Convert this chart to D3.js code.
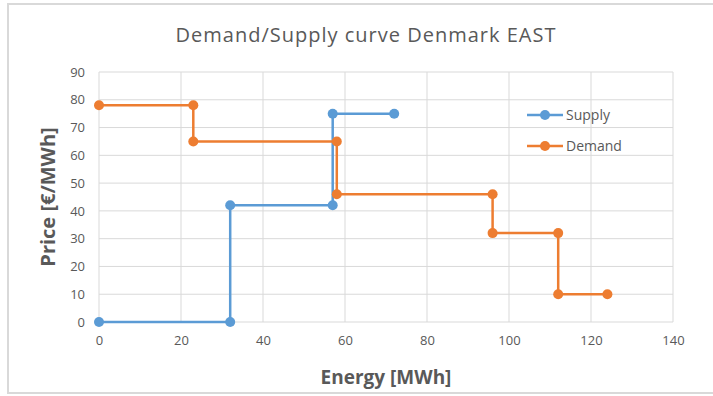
<!DOCTYPE html>
<html><head><meta charset="utf-8">
<script src="https://cdn.jsdelivr.net/npm/d3@7"></script>
<style>body{margin:0;background:#fff}svg{display:block}</style>
</head><body>
<script>
const supplyX = [0, 32, 32, 57, 57, 72];
const supplyY = [0, 0, 42, 42, 75, 75];
const demandX = [0, 23, 23, 58, 58, 96, 96, 112, 112, 124];
const demandY = [78, 78, 65, 65, 46, 46, 32, 32, 10, 10];
const xTicks = [0, 20, 40, 60, 80, 100, 120, 140];
const yTicks = [0, 10, 20, 30, 40, 50, 60, 70, 80, 90];
const seriesNames = ["Supply", "Demand"];
const colors = ["#5b9bd5", "#ed7d31"];

const W = 713, H = 396;
const svg = d3.select("body").append("svg").attr("width", W).attr("height", H);
svg.append("rect").attr("x", 8).attr("y", 4).attr("width", W).attr("height", 389)
  .attr("fill", "#fff").attr("stroke", "#d9d9d9").attr("stroke-width", 2);

const x = d3.scaleLinear().domain([0, 140]).range([99, 673]);
const y = d3.scaleLinear().domain([0, 90]).range([322, 72]);
const font = "'Open Sans', 'Noto Sans', sans-serif";

svg.append("text").attr("x", 366).attr("y", 42).attr("text-anchor", "middle")
  .attr("font-family", font).attr("font-size", 20).attr("letter-spacing", 1).attr("fill", "#595959")
  .text("Demand/Supply curve Denmark EAST");

const g = svg.append("g");
g.selectAll(".gx").data(xTicks).join("line")
  .attr("x1", d => x(d)).attr("x2", d => x(d)).attr("y1", y(0)).attr("y2", y(90))
  .attr("stroke", "#d9d9d9").attr("stroke-width", 1);
g.selectAll(".gy").data(yTicks).join("line")
  .attr("y1", d => y(d)).attr("y2", d => y(d)).attr("x1", x(0)).attr("x2", x(140))
  .attr("stroke", "#d9d9d9").attr("stroke-width", 1);

const xa = svg.append("g").attr("transform", `translate(0,${y(0)})`)
  .call(d3.axisBottom(x).tickValues(xTicks).tickSize(0).tickPadding(14));
const ya = svg.append("g").attr("transform", `translate(${x(0)},0)`)
  .call(d3.axisLeft(y).tickValues(yTicks).tickSize(0).tickPadding(14));
[xa, ya].forEach(a => {
  a.select(".domain").remove();
  a.selectAll("text").attr("font-family", font).attr("font-size", 13).attr("fill", "#595959");
});

svg.append("text").attr("x", 386).attr("y", 384).attr("text-anchor", "middle")
  .attr("font-family", font).attr("font-size", 19).attr("font-weight", "bold").attr("fill", "#595959")
  .text("Energy [MWh]");
svg.append("text").attr("transform", "translate(55,197) rotate(-90)").attr("text-anchor", "middle")
  .attr("font-family", font).attr("font-size", 20).attr("font-weight", "bold").attr("fill", "#595959")
  .text("Price [€/MWh]");

const line = d3.line().x(d => x(d[0])).y(d => y(d[1]));
const series = [d3.zip(supplyX, supplyY), d3.zip(demandX, demandY)];
series.forEach((pts, i) => {
  svg.append("path").datum(pts).attr("d", line).attr("fill", "none")
    .attr("stroke", colors[i]).attr("stroke-width", 2.5);
  svg.append("g").selectAll("circle").data(pts).join("circle")
    .attr("cx", d => x(d[0])).attr("cy", d => y(d[1])).attr("r", 5).attr("fill", colors[i]);
});

const leg = svg.append("g");
seriesNames.forEach((n, i) => {
  const ly = 115 + i * 31;
  leg.append("line").attr("x1", 527).attr("x2", 563).attr("y1", ly).attr("y2", ly)
    .attr("stroke", colors[i]).attr("stroke-width", 2.5);
  leg.append("circle").attr("cx", 545).attr("cy", ly).attr("r", 5).attr("fill", colors[i]);
  leg.append("text").attr("x", 566).attr("y", ly + 5).attr("font-family", font)
    .attr("font-size", 14).attr("fill", "#595959").text(n);
});
</script>
</body></html>
